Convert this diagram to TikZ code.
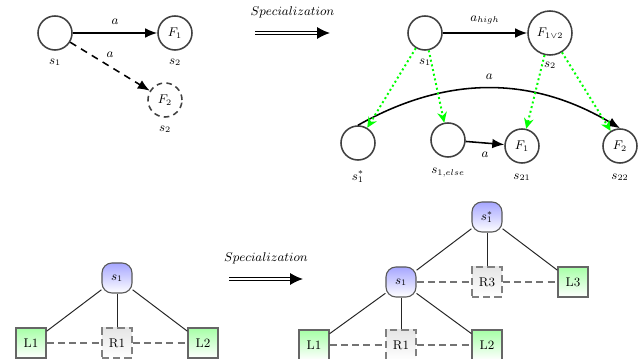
\documentclass[tikz,border=0pt]{standalone}
\usepackage{amsmath,bm}
\usetikzlibrary{arrows.meta, positioning}

\begin{document}
\begin{tikzpicture}[
  x=0.025cm, y=-0.025cm,
  font=\small,
  state/.style={circle, draw=black!75, line width=1.1pt, minimum size=0.85cm, inner sep=1pt},
  ghost/.style={state, dash pattern=on 4pt off 3pt},
  lbl/.style={inner sep=0pt},
  arrow/.style={-{Latex[length=3mm, width=2.4mm]}, line width=1.1pt},
  refine/.style={-{Stealth[length=2.6mm, width=2.4mm]}, draw=green, dotted, line width=1.4pt},
  spec/.style={double, double distance=1.5pt, line width=1pt, -{Latex[length=3.2mm, width=3mm]}},
  lbox/.style={rectangle, draw=black!60, thick, minimum size=0.75cm, top color=green!35, bottom color=white},
  rbox/.style={rectangle, draw=black!50, thick, dash pattern=on 5pt off 3pt, minimum size=0.75cm, top color=black!10, bottom color=white},
  sbox/.style={rectangle, rounded corners=2.5mm, draw=black!65, thick, minimum size=0.75cm, top color=blue!35, bottom color=white},
  link/.style={draw=black!85, line width=0.7pt},
  weak/.style={draw=black!55, thick, dash pattern=on 5pt off 3pt}
]
\useasboundingbox (0,0) rectangle (640,359);

% Original transition
\node[state] (s1a) at (55,33) {};
\node[state] (f1a) at (175,33) {$F_1$};
\node[ghost] (f2a) at (165,100) {$F_2$};
\node[lbl, below=2mm of s1a] (s1alab) {$s_1$};
\node[lbl, below=2mm of f1a] (f1alab) {$s_2$};
\node[lbl, below=2mm of f2a] (f2alab) {$s_2$};
\draw[arrow] (s1a) -- node[lbl, above=2mm] (aa) {$a$} (f1a);
\draw[arrow, dash pattern=on 5pt off 4pt] (s1a) -- node[lbl, above=2mm] (ab) {$a$} (f2a);

% Specialization arrows
\coordinate (spA1) at (255,33);
\coordinate (spA2) at (330,33);
\draw[spec] (spA1) -- node[lbl, above=3.5mm] (specA) {$Specialization$} (spA2);
\coordinate (spB1) at (229,279);
\coordinate (spB2) at (303,279);
\draw[spec] (spB1) -- node[lbl, above=3.5mm] (specB) {$Specialization$} (spB2);

% Specialized transition
\node[state] (s1b) at (425,33) {};
\node[state, minimum size=1.1cm] (f12) at (550,33) {$F_{1\vee 2}$};
\node[state] (s1star) at (358,143) {};
\node[state] (s1else) at (448,140) {};
\node[state] (f1b) at (522,146) {$F_1$};
\node[state] (f2b) at (620,146) {$F_2$};
\node[lbl, below=2mm of s1b] (s1blab) {$s_1$};
\node[lbl, below=1.5mm of f12] (f12lab) {$s_2$};
\node[lbl, below=2.5mm of s1star] (s1starlab) {$s_1^*$};
\node[lbl, below=2.5mm of s1else] (s1elselab) {$s_{1,else}$};
\node[lbl, below=2.5mm of f1b] (f1blab) {$s_{21}$};
\node[lbl, below=2.5mm of f2b] (f2blab) {$s_{22}$};
\draw[arrow] (s1b) -- node[lbl, above=2mm] (ahigh) {$a_{high}$} (f12);
\draw[arrow] (s1else) -- node[lbl, below=2mm] (aelse) {$a$} (f1b);
\draw[arrow] (s1star.north) to[bend left=30] node[lbl, above=2mm] (acurve) {$a$} (f2b.north);
\draw[refine] (s1b) -- (s1star);
\draw[refine] (s1b) -- (s1else);
\draw[refine] (f12) -- (f1b);
\draw[refine] (f12) -- (f2b);

% Original tree
\node[sbox] (s1c) at (117,278) {$s_1$};
\node[lbox] (l1c) at (31,343) {L1};
\node[rbox] (r1c) at (117,343) {R1};
\node[lbox] (l2c) at (203,343) {L2};
\draw[link] (s1c) -- (l1c);
\draw[link] (s1c) -- (r1c);
\draw[link] (s1c) -- (l2c);
\draw[weak] (l1c) -- (r1c) -- (l2c);

% Specialized tree
\node[sbox] (s1sd) at (487,217) {$s_1^*$};
\node[sbox] (s1d) at (401,282) {$s_1$};
\node[rbox] (r3d) at (487,282) {R3};
\node[lbox] (l3d) at (573,282) {L3};
\node[lbox] (l1d) at (314,345) {L1};
\node[rbox] (r1d) at (401,345) {R1};
\node[lbox] (l2d) at (487,345) {L2};
\draw[link] (s1sd) -- (s1d);
\draw[link] (s1sd) -- (r3d);
\draw[link] (s1sd) -- (l3d);
\draw[link] (s1d) -- (l1d);
\draw[link] (s1d) -- (r1d);
\draw[link] (s1d) -- (l2d);
\draw[weak] (s1d) -- (r3d) -- (l3d);
\draw[weak] (l1d) -- (r1d) -- (l2d);
\end{tikzpicture}
\end{document}
